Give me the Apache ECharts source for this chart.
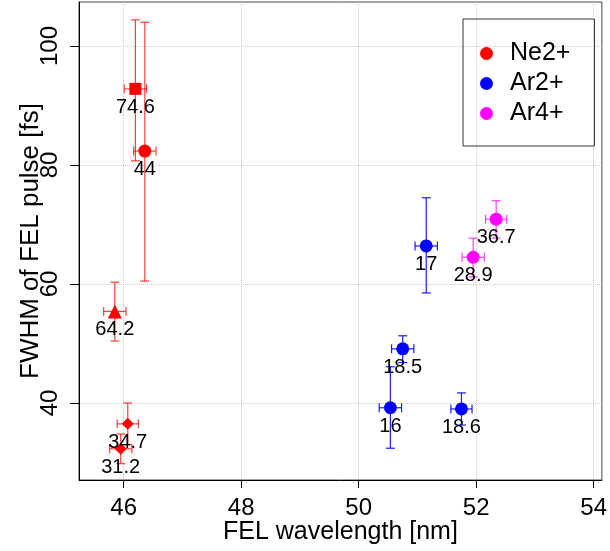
<!DOCTYPE html>
<html><head><meta charset="utf-8">
<script src="https://cdn.jsdelivr.net/npm/echarts@6/dist/echarts.min.js"></script>
<style>html,body{margin:0;padding:0;background:#fff}#c{width:610px;height:551px}</style>
</head><body><div id="c"></div>
<script>
const xTicks = [46, 48, 50, 52, 54];
const yTicks = [40, 60, 80, 100];

const ne2X = [46.20, 46.36, 45.85, 46.07, 45.95];
const ne2Y = [92.8, 82.35, 55.4, 36.5, 32.3];
const ne2XErr = [0.19, 0.19, 0.19, 0.18, 0.19];
const ne2YLow = [80.7, 60.5, 50.4, 33.0, 29.8];
const ne2YHigh = [104.4, 104.0, 60.3, 40.0, 34.8];
const ne2Labels = ['74.6', '44', '64.2', '34.7', '31.2'];
const ne2Symbols = ['rect', 'circle', 'triangle', 'diamond', 'diamond'];

const ar2X = [51.15, 50.75, 50.54, 51.75];
const ar2Y = [66.4, 49.1, 39.2, 39.0];
const ar2XErr = [0.19, 0.19, 0.19, 0.18];
const ar2YLow = [58.5, 46.8, 32.4, 36.3];
const ar2YHigh = [74.5, 51.3, 46.1, 41.7];
const ar2Labels = ['17', '18.5', '16', '18.6'];

const ar4X = [52.34, 51.95];
const ar4Y = [70.9, 64.5];
const ar4XErr = [0.18, 0.19];
const ar4YLow = [67.7, 61.2];
const ar4YHigh = [74.0, 67.7];
const ar4Labels = ['36.7', '28.9'];

const FONT = '"Liberation Sans", Arial, Helvetica, sans-serif';
const symbolSizes = {rect: 12, circle: 13, triangle: 14, diamond: 12};

function errRender(color, opacity) {
  return function (params, api) {
    const x = api.value(0), y = api.value(1), xe = api.value(2), yl = api.value(3), yh = api.value(4);
    const l = api.coord([x - xe, y]), r = api.coord([x + xe, y]);
    const t = api.coord([x, yh]), b = api.coord([x, yl]);
    const cap = 4.5;
    const style = {stroke: color, lineWidth: 1.2, opacity: opacity};
    const ln = (x1, y1, x2, y2) => ({type: 'line', shape: {x1, y1, x2, y2}, style});
    return {type: 'group', children: [
      ln(l[0], l[1], r[0], r[1]),
      ln(l[0], l[1] - cap, l[0], l[1] + cap),
      ln(r[0], r[1] - cap, r[0], r[1] + cap),
      ln(t[0], t[1], b[0], b[1]),
      ln(t[0] - cap, t[1], t[0] + cap, t[1]),
      ln(b[0] - cap, b[1], b[0] + cap, b[1])
    ]};
  };
}

function errData(xs, ys, xe, yl, yh) {
  return xs.map((x, i) => [x, ys[i], xe[i], yl[i], yh[i]]);
}
function ptData(xs, ys, labels, symbols) {
  return xs.map((x, i) => {
    const s = symbols ? symbols[i] : 'circle';
    return {value: [x, ys[i]], name: labels[i], symbol: s, symbolSize: symbolSizes[s]};
  });
}
const labelCfg = {
  show: true, position: 'inside', offset: [0, 18.5],
  formatter: p => p.name, color: '#000', fontSize: 20, fontFamily: FONT
};

const chart = echarts.init(document.getElementById('c'));
chart.setOption({
  animation: false,
  backgroundColor: '#fff',
  grid: {left: 79, right: 7, top: 2, bottom: 71, show: true, borderColor: '#444', borderWidth: 1},
  xAxis: {
    type: 'value', min: 45.24, max: 54.14,
    name: 'FEL wavelength [nm]', nameLocation: 'middle', nameGap: 40, nameMoveOverlap: false,
    nameTextStyle: {fontSize: 25, fontFamily: FONT, color: '#000'},
    axisLine: {show: true, onZero: false, lineStyle: {color: '#000', width: 1}},
    axisTick: {show: true, inside: false, length: 8, customValues: xTicks, lineStyle: {color: '#000'}},
    axisLabel: {customValues: xTicks, fontSize: 24, fontFamily: FONT, color: '#000', margin: 16},
    splitLine: {show: true, lineStyle: {color: '#ccc', type: 'dotted', width: 1}}
  },
  yAxis: {
    type: 'value', min: 27.06, max: 107.4,
    name: 'FWHM of FEL pulse [fs]', nameLocation: 'middle', nameGap: 35, nameRotate: 90, nameMoveOverlap: false,
    nameTextStyle: {fontSize: 26, fontFamily: FONT, color: '#000'},
    axisLine: {show: true, onZero: false, lineStyle: {color: '#000', width: 1}},
    axisTick: {show: true, inside: false, length: 9, customValues: yTicks, lineStyle: {color: '#000'}},
    axisLabel: {customValues: yTicks, rotate: 90, fontSize: 24, fontFamily: FONT, color: '#000', margin: 17},
    splitLine: {show: true, lineStyle: {color: '#ccc', type: 'dotted', width: 1}}
  },
  legend: {
    data: [{name: 'Ne2+', icon: 'circle'}, {name: 'Ar2+', icon: 'circle'}, {name: 'Ar4+', icon: 'circle'}],
    orient: 'vertical', left: 463, top: 19,
    itemWidth: 13, itemHeight: 13, itemGap: 5,
    padding: [22, 24, 20, 17],
    borderColor: '#333', borderWidth: 1, borderRadius: 0,
    selectedMode: false,
    textStyle: {fontSize: 25, fontFamily: FONT, color: '#000', padding: [0, 0, 0, 12], lineHeight: 23}
  },
  series: [
    {type: 'custom', name: 'ne2err', renderItem: errRender('#ff0000', 0.75), data: errData(ne2X, ne2Y, ne2XErr, ne2YLow, ne2YHigh), z: 2, encode: {x: 0, y: 1}},
    {type: 'custom', name: 'ar2err', renderItem: errRender('#0000ff', 0.9), data: errData(ar2X, ar2Y, ar2XErr, ar2YLow, ar2YHigh), z: 2, encode: {x: 0, y: 1}},
    {type: 'custom', name: 'ar4err', renderItem: errRender('#ff00ff', 0.75), data: errData(ar4X, ar4Y, ar4XErr, ar4YLow, ar4YHigh), z: 2, encode: {x: 0, y: 1}},
    {type: 'scatter', name: 'Ne2+', itemStyle: {color: '#ff0000', opacity: 1}, data: ptData(ne2X, ne2Y, ne2Labels, ne2Symbols), label: labelCfg, z: 3},
    {type: 'scatter', name: 'Ar2+', itemStyle: {color: '#0000ff', opacity: 1}, data: ptData(ar2X, ar2Y, ar2Labels), label: labelCfg, z: 3},
    {type: 'scatter', name: 'Ar4+', itemStyle: {color: '#ff00ff', opacity: 1}, data: ptData(ar4X, ar4Y, ar4Labels), label: labelCfg, z: 3}
  ]
});
</script></body></html>
